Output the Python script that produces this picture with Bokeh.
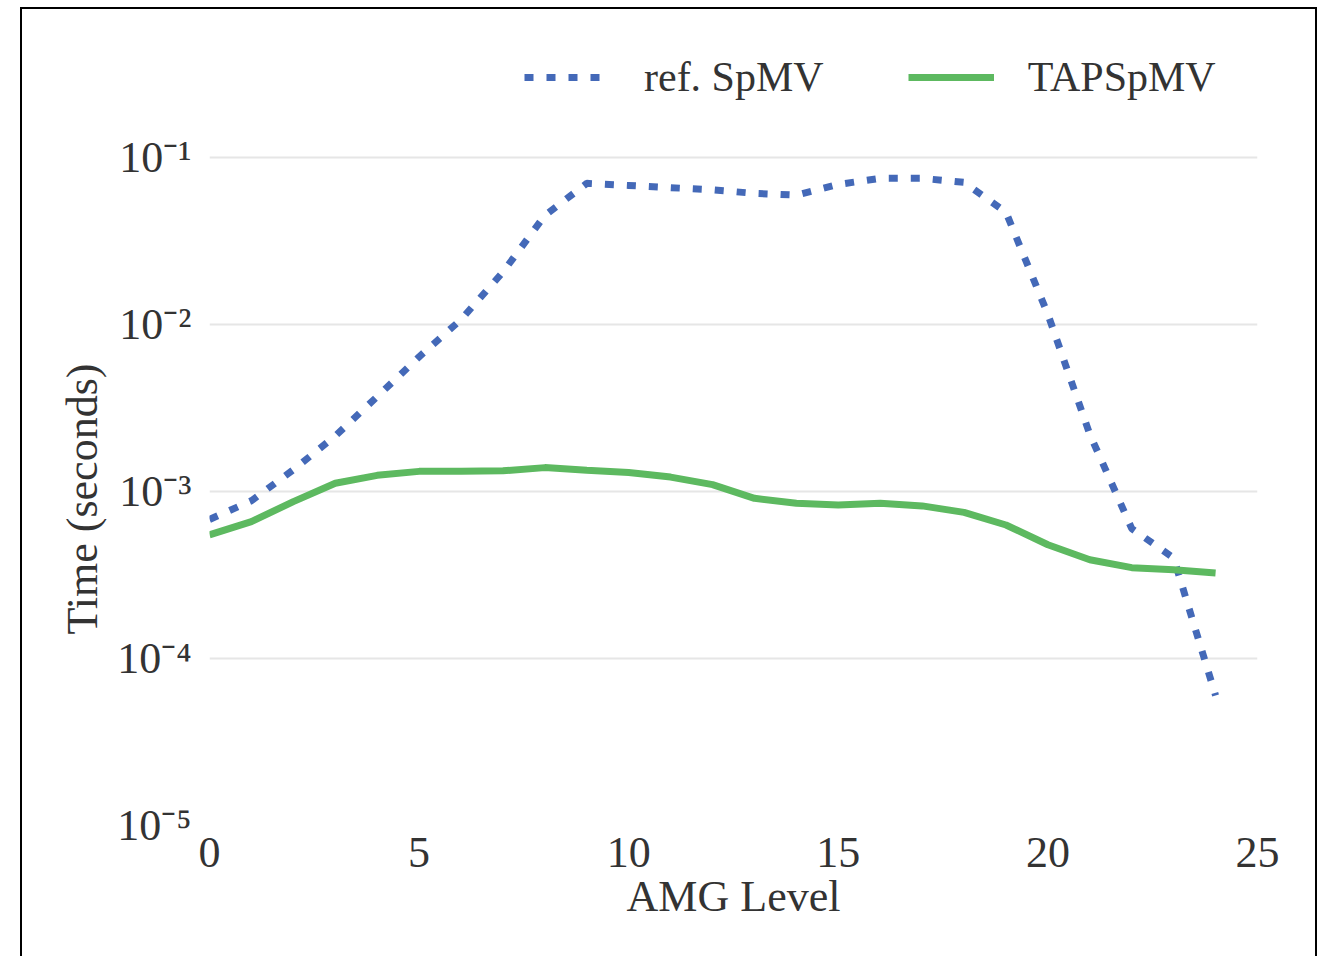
from bokeh.plotting import figure
from bokeh.models import Legend, LegendItem, FixedTicker, Range1d, Title
from bokeh.embed import file_html
from bokeh.resources import INLINE

levels = list(range(25))
ref_spmv = [6.8e-4, 8.8e-4, 1.35e-3, 2.15e-3, 3.7e-3, 6.4e-3, 1.07e-2, 2.06e-2,
            4.5e-2, 7.0e-2, 6.8e-2, 6.6e-2, 6.4e-2, 6.1e-2, 5.95e-2, 6.9e-2,
            7.5e-2, 7.5e-2, 7.1e-2, 4.7e-2, 1.15e-2, 2.2e-3, 6.0e-4, 4.0e-4, 6.0e-5]
tap_spmv = [5.5e-4, 6.6e-4, 8.7e-4, 1.12e-3, 1.25e-3, 1.32e-3, 1.32e-3, 1.33e-3,
            1.39e-3, 1.34e-3, 1.30e-3, 1.22e-3, 1.10e-3, 9.1e-4, 8.5e-4, 8.3e-4,
            8.5e-4, 8.2e-4, 7.5e-4, 6.3e-4, 4.8e-4, 3.9e-4, 3.5e-4, 3.4e-4, 3.25e-4]
x_ticks = [0, 5, 10, 15, 20, 25]
y_ticks = [1e-5, 1e-4, 1e-3, 1e-2, 1e-1]
y_tick_labels = ["10\u207b\u2075", "10\u207b\u2074", "10\u207b\u00b3", "10\u207b\u00b2", "10\u207b\u00b9"]
series_names = ["ref. SpMV", "TAPSpMV"]
x_label = "AMG Level"
y_label = "Time (seconds)"

FONT = "Liberation Serif"
FS = "44px"

# the frame reaches up to the canvas top so that the legend can sit above the 10^-1 line
y_top = 10 ** (-1 + 148 / 167)

p = figure(width=1297, height=949, y_axis_type="log",
           x_range=Range1d(0, 25), y_range=Range1d(1e-5, y_top),
           output_backend="svg", toolbar_location=None,
           min_border_left=187, min_border_right=62,
           min_border_top=0, min_border_bottom=133)
p.styles = {"margin-left": "20px", "margin-top": "7px",
            "border-left": "2px solid black",
            "border-top": "2px solid black", "border-right": "2px solid black"}

r1 = p.line(levels, ref_spmv, line_color="#4469B8", line_width=7, line_dash="9 13")
r2 = p.line(levels, tap_spmv, line_color="#5DB960", line_width=7)

p.outline_line_color = None
p.xgrid.grid_line_color = None
p.ygrid.grid_line_color = "#e6e6e6"
p.ygrid.grid_line_width = 2

p.xaxis.ticker = FixedTicker(ticks=x_ticks)
p.yaxis.ticker = FixedTicker(ticks=y_ticks)
p.yaxis.major_label_overrides = {t: l for t, l in zip(y_ticks, y_tick_labels)}

for ax in (p.xaxis, p.yaxis):
    ax.axis_line_color = None
    ax.major_tick_line_color = None
    ax.minor_tick_line_color = None
    ax.major_label_text_font = FONT
    ax.major_label_text_font_size = FS
    ax.major_label_text_color = "#333333"
    ax.axis_label_text_font = FONT
    ax.axis_label_text_font_size = FS
    ax.axis_label_text_font_style = "normal"
    ax.axis_label_text_color = "#333333"

p.xaxis.axis_label = x_label
p.xaxis.major_label_standoff = 6
p.yaxis.major_label_standoff = 12
p.xaxis.axis_label_standoff = 2

# y-axis title, centred on the 1e-5..1e-1 span rather than on the taller frame
ytitle = Title(text=y_label, align="left", offset=191, vertical_align="bottom",
               text_font=FONT, text_font_size=FS, text_font_style="normal",
               text_color="#333333", standoff=16)
p.add_layout(ytitle, "left")

legend = Legend(items=[LegendItem(label=series_names[0], renderers=[r1]),
                       LegendItem(label=series_names[1], renderers=[r2])],
                orientation="horizontal", location=(315, 724),
                label_text_font=FONT, label_text_font_size="42px",
                label_text_color="#333333",
                glyph_width=86, label_standoff=34, spacing=84,
                border_line_color=None, background_fill_alpha=0,
                margin=0, padding=0)
p.add_layout(legend)

open("out.html", "w").write(file_html(p, INLINE))
